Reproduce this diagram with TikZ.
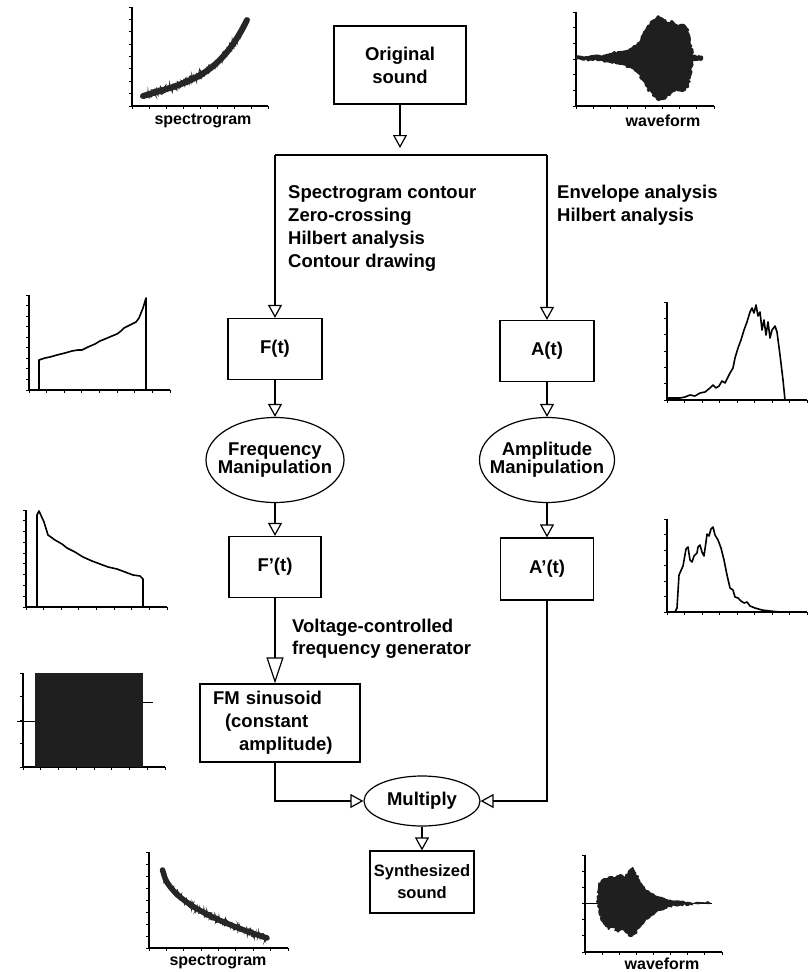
\documentclass[tikz,border=0pt]{standalone}
\usepackage{fontspec}
\setmainfont{Liberation Sans}
\usetikzlibrary{arrows.meta, positioning, shapes.geometric, decorations.pathmorphing}

\newcommand\diagfont{\fontsize{18.5}{23}\selectfont\bfseries}
\newcommand\capfont{\fontsize{16}{18}\selectfont\bfseries}
\newcommand\sigaxes[5]{%
  \draw[plotaxis] (#1,#2) -- (#1,#4) -- (#3,#4);
  \foreach \k in {0,...,#5}
    \draw[ticmark] ({#1-3},{#2+\k*(#4-#2)/#5}) -- (#1,{#2+\k*(#4-#2)/#5});
  \foreach \k in {0,...,8}
    \draw[ticmark] ({#1+\k*(#3-#1)/8},#4) -- ({#1+\k*(#3-#1)/8},{#4+3});
}

\begin{document}
\begin{tikzpicture}[
    x=1pt, y=-1pt,
    box/.style={draw, line width=1.2pt, inner sep=0pt, align=center, font=\diagfont},
    oval/.style={draw, ellipse, line width=1.2pt, inner sep=0pt},
    link/.style={line width=1.2pt},
    arr/.style={link, -{Triangle[open, length=13pt, width=14pt]}},
    bigarr/.style={link, -{Triangle[open, length=26pt, width=17pt]}},
    note/.style={align=left, inner sep=0pt, anchor=north west, font=\diagfont},
    plotlabel/.style={inner sep=0pt, font=\capfont},
    plotaxis/.style={line width=1.3pt},
    ticmark/.style={line width=1pt},
    curve/.style={line width=1.6pt, line join=round},
    ink/.style={fill=black!88},
    jag/.style={decorate, decoration={random steps, segment length=2pt, amplitude=1.2pt}}
  ]
  \useasboundingbox (0,0) rectangle (808,972);

  % flow chart
  \node[box, minimum width=132pt, minimum height=78pt] (orig) at (400,65) {Original\\sound};
  \coordinate (tip) at (400,148);
  \coordinate (fsplit) at (275,155);
  \coordinate (asplit) at (547,155);
  \node[box, minimum width=94pt, minimum height=61pt] (freq) at (275,349) {F(t)};
  \node[box, minimum width=94pt, minimum height=61pt] (amp) at (547,351) {A(t)};
  \node[oval, minimum width=138pt, minimum height=85pt] (fman) at (275,460) {};
  \node[font=\fontsize{18.5}{18}\selectfont\bfseries, align=center, inner sep=0pt] (fmantext) at (fman) {Frequency\\Manipulation};
  \node[oval, minimum width=135pt, minimum height=85pt] (aman) at (547,460) {};
  \node[font=\fontsize{18.5}{18}\selectfont\bfseries, align=center, inner sep=0pt] (amantext) at (aman) {Amplitude\\Manipulation};
  \node[box, minimum width=92pt, minimum height=61pt] (freqp) at (275,567) {F'(t)};
  \node[box, minimum width=93pt, minimum height=62pt] (ampp) at (547,569) {A'(t)};
  \node[box, minimum height=78pt, text width=134pt, inner xsep=13pt, align=left] (fmsin) at (280,723)
    {FM sinusoid\\\hspace*{12pt}(constant\\\hspace*{26pt}amplitude)};
  \node[oval, minimum width=116pt, minimum height=50pt, font=\diagfont] (mult) at (422,801) {Multiply};
  \node[box, minimum width=104pt, minimum height=62pt, font=\fontsize{16.5}{22}\selectfont\bfseries] (synth) at (422,882) {Synthesized\\sound};

  \node[note] (fnote) at (288,185) {Spectrogram contour\\Zero-crossing\\Hilbert analysis\\Contour drawing};
  \node[note] (anote) at (557,185) {Envelope analysis\\Hilbert analysis};
  \node[note, font=\fontsize{18.5}{21.5}\selectfont\bfseries] (vnote) at (292,619) {Voltage-controlled\\frequency generator};

  \draw[arr] (orig) -- (tip);
  \draw[link] (fsplit) -- (asplit);
  \draw[arr] (fsplit) -- (freq);
  \draw[arr] (asplit) -- (amp);
  \draw[arr] (freq) -- (fman);
  \draw[arr] (amp) -- (aman);
  \draw[arr] (fman) -- (freqp);
  \draw[arr] (aman) -- (ampp);
  \draw[bigarr] (freqp) -- (freqp |- fmsin.north);
  \draw[arr] (fmsin.south -| freqp) |- (mult);
  \draw[arr] (ampp) |- (mult);
  \draw[arr] (mult) -- (synth);

  % original spectrogram
  \sigaxes{132}{7}{268}{106}{8}
  \pgfmathsetseed{11}
  \draw[line width=6pt, line cap=round, black!85] plot[domain=0:1, samples=40, smooth, variable=\t]
    ({143+104*\t}, {96-76*(0.4*\t+0.6*\t^4)});
  \draw[line width=1.1pt, black!85] plot[domain=0:1, samples=260, variable=\t]
    ({143+104*\t+1.5*rand}, {96-76*(0.4*\t+0.6*\t^4)+4*rand});
  \node[plotlabel] (specA) at (203,121) {spectrogram};

  % original waveform
  \sigaxes{576}{12}{714}{106}{6}
  \draw[ticmark] (576,58) -- (703,58);
  \fill[ink, jag] (576,56.5) -- (590,55.5) -- (600,55) -- (610,53) -- (620,51) -- (630,48)
    -- (638,42) -- (645,30) -- (652,20) -- (658,15) -- (663,18) -- (667,22) -- (672,20)
    -- (678,25) -- (684,24) -- (688,28) -- (691,40) -- (693,55) -- (700,55.5) -- (703,56.5)
    -- (703,59.5) -- (700,60.5) -- (693,61) -- (691,76) -- (688,88) -- (683,92) -- (676,90)
    -- (670,96) -- (663,100) -- (658,101) -- (652,96) -- (645,86) -- (638,74) -- (630,68)
    -- (620,65) -- (610,63) -- (600,61) -- (590,60.5) -- (576,59.5) -- cycle;
  \node[plotlabel] (waveA) at (663,121) {waveform};

  % F(t)
  \sigaxes{29}{295}{170}{390}{9}
  \draw[curve] plot coordinates {(39,390) (39,360) (45,358) (50,357) (57,355) (65,353) (72,351)
    (78,350) (82,350) (88,347) (95,344) (100,341) (105,339) (112,336) (117,334) (121,331)
    (124,328) (130,325) (136,322) (139,318) (143,308) (146,298) (146,390)};

  % A(t)
  \sigaxes{667}{302}{807}{400}{6}
  \draw[curve] plot coordinates {(667,398) (680,398) (685,397) (690,395) (695,396) (700,393)
    (705,392) (710,388) (713,385) (716,388) (719,386) (722,381) (725,383) (728,377) (730,373)
    (733,368) (735,358) (738,348) (741,340) (744,330) (747,322) (750,312) (752,308) (754,313)
    (756,305) (758,316) (760,312) (762,330) (764,320) (766,335) (768,322) (770,338) (772,330)
    (775,326) (777,332) (780,355) (783,380) (785,400) (795,400)};

  % F'(t)
  \sigaxes{26}{510}{167}{607}{9}
  \draw[curve] plot coordinates {(37,607) (37,515) (39,511) (44,522) (48,535) (55,540) (62,544)
    (67,548) (75,552) (83,557) (92,561) (100,564) (108,567) (117,569) (125,572) (133,575)
    (140,576) (143,579) (143,607)};

  % A'(t)
  \sigaxes{667}{519}{807}{612}{6}
  \draw[curve] plot coordinates {(667,612) (675,612) (677,608) (679,575) (683,566) (686,549)
    (688,547) (690,560) (692,562) (694,556) (697,553) (698,547) (700,545) (702,552) (704,556)
    (706,542) (707,534) (709,536) (711,529) (713,527) (715,535) (718,540) (721,548) (724,560)
    (727,575) (730,588) (733,590) (735,597) (738,598) (741,601) (744,603) (747,602) (750,606)
    (755,608) (762,610) (770,611) (780,612)};

  % FM sinusoid
  \sigaxes{23}{673}{165}{767}{4}
  \fill[ink] (35,673) rectangle (143,767);
  \draw[ticmark] (17,721) -- (35,721);
  \draw[ticmark] (143,702) -- (153,702);

  % synthesized spectrogram
  \sigaxes{149}{852}{288}{948}{8}
  \draw[line width=5.5pt, line cap=round, black!85] plot[domain=0.005:1, samples=40, smooth, variable=\t]
    ({162+105*\t}, {863+75*\t^0.45});
  \draw[line width=1.1pt, black!85] plot[domain=0.005:1, samples=260, variable=\t]
    ({162+105*\t+1.5*rand}, {863+75*\t^0.45+3.8*rand});
  \node[plotlabel] (specB) at (218,962) {spectrogram};

  % synthesized waveform
  \sigaxes{585}{855}{722}{952}{6}
  \draw[ticmark] (585,903) -- (712,903);
  \fill[ink, jag] (597,903) -- (598,885) -- (601,880) -- (605,878) -- (610,876) -- (615,877)
    -- (620,874) -- (625,876) -- (630,869) -- (633,867) -- (636,872) -- (640,880) -- (645,888)
    -- (650,892) -- (655,895) -- (660,897) -- (665,898) -- (670,899) -- (680,901) -- (690,902)
    -- (700,902) -- (710,902.3) -- (710,903.7) -- (700,904) -- (690,904.5) -- (680,905.5)
    -- (670,907) -- (665,909) -- (660,911) -- (655,914) -- (650,918) -- (645,922) -- (640,928)
    -- (636,934) -- (632,937) -- (628,936) -- (623,930) -- (618,933) -- (613,928) -- (608,930)
    -- (603,924) -- (599,915) -- cycle;
  \node[plotlabel] (waveB) at (662,964) {waveform};
\end{tikzpicture}
\end{document}
